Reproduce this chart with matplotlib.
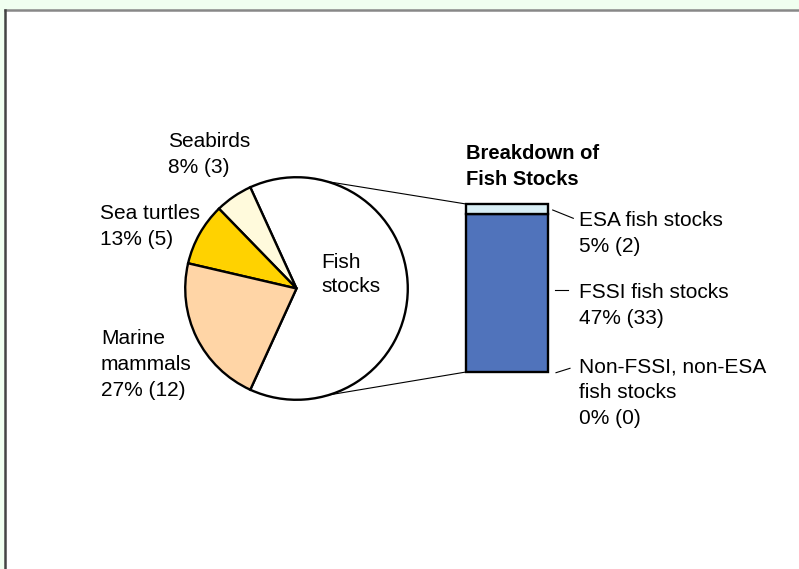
import numpy as np
import matplotlib.pyplot as plt
from matplotlib.patches import Rectangle, ConnectionPatch
from matplotlib.lines import Line2D

plt.rcParams['font.family'] = ['Liberation Sans', 'DejaVu Sans']

# pie data (counts), drawn counterclockwise starting with fish stocks
pie_names = ['Fish stocks', 'Seabirds', 'Sea turtles', 'Marine mammals']
pie_counts = [35, 3, 5, 12]
pie_colors = ['#ffffff', '#fffadc', '#ffd200', '#ffd5a6']
pie_labels = ['Seabirds\n8% (3)', 'Sea turtles\n13% (5)', 'Marine\nmammals\n27% (12)']

# breakdown bar, bottom to top
bar_names = ['Non-FSSI, non-ESA fish stocks', 'FSSI fish stocks', 'ESA fish stocks']
bar_counts = [0, 33, 2]
bar_colors = ['#ffffff', '#5073bb', '#d8eef5']
bar_labels = ['Non-FSSI, non-ESA\nfish stocks\n0% (0)', 'FSSI fish stocks\n47% (33)', 'ESA fish stocks\n5% (2)']

W, H = 799, 569
fig = plt.figure(figsize=(W / 100, H / 100), dpi=100)
fig.patch.set_facecolor('#f0fff0')

def px(x, y):
    return x / W, 1 - y / H

# white panel with grey top/left border
fig.patches.append(Rectangle(px(5, H), 1, (H - 10) / H, transform=fig.transFigure,
                             facecolor='white', edgecolor='none', zorder=-2))
fig.lines.append(Line2D([5 / W, 1], [1 - 10 / H] * 2, transform=fig.transFigure,
                        color='#888888', lw=1.8, zorder=-1))
fig.lines.append(Line2D([5 / W] * 2, [0, 1 - 10 / H], transform=fig.transFigure,
                        color='#444444', lw=1.8, zorder=-1))

# pie
cx, cy, r = 296.5, 288.5, 113.5
ax_pie = fig.add_axes([(cx - r) / W, (H - cy - r) / H, 2 * r / W, 2 * r / H])
total = sum(pie_counts)
ax_pie.pie(pie_counts, colors=pie_colors, startangle=-0.5 * pie_counts[0] / total * 360,
           counterclock=True, radius=1,
           wedgeprops=dict(edgecolor='black', linewidth=1.7))
ax_pie.set_xlim(-1.02, 1.02)
ax_pie.set_ylim(-1.02, 1.02)
ax_pie.set_aspect('equal')
ax_pie.axis('off')
for w in ax_pie.patches:
    w.set_clip_on(False)

# stacked bar
bx0, bx1, by0, by1 = 466, 548, 204, 372
ax_bar = fig.add_axes([bx0 / W, (H - by1) / H, (bx1 - bx0) / W, (by1 - by0) / H])
bottom = 0
for v, c in zip(bar_counts, bar_colors):
    if v > 0:
        ax_bar.bar(0, v, bottom=bottom, width=1, color=c, edgecolor='black',
                   linewidth=1.7, clip_on=False)
    bottom += v
ax_bar.set_xlim(-0.5, 0.5)
ax_bar.set_ylim(0, sum(bar_counts))
ax_bar.axis('off')

# connector lines pie -> bar
for ang, yb in [(74, sum(bar_counts)), (-73, 0)]:
    a = np.deg2rad(ang)
    con = ConnectionPatch(xyA=(np.cos(a), np.sin(a)), coordsA=ax_pie.transData,
                          xyB=(-0.5, yb), coordsB=ax_bar.transData,
                          color='black', lw=0.8)
    fig.add_artist(con)

# text overlay in pixel coords
ax_t = fig.add_axes([0, 0, 1, 1])
ax_t.set_xlim(0, W)
ax_t.set_ylim(H, 0)
ax_t.axis('off')
fs = 15
ls = 1.47
off = 1
pie_label_pos = [(168, 133), (100, 205), (101, 330)]
for (x, y), t in zip(pie_label_pos, pie_labels):
    ax_t.text(x, y - off, t, fontsize=fs, ha='left', va='top', linespacing=ls)
ax_t.text(321, 254 - off, 'Fish\nstocks', fontsize=fs, ha='left', va='top', linespacing=ls - 0.12)
ax_t.text(466, 145 - off, 'Breakdown of\nFish Stocks', fontsize=14.5, fontweight='bold',
          ha='left', va='top', linespacing=ls)

bar_label_pos = [(579, 358.3), (579, 284), (579, 211.7)]
leaders = [((556, 372.7), (570, 368.3)), ((555, 290), (568, 290)), ((552.7, 210), (573.3, 218.3))]
for (x, y), t, (p0, p1) in zip(bar_label_pos, bar_labels, leaders):
    ax_t.text(x, y - off, t, fontsize=fs, ha='left', va='top', linespacing=ls)
    ax_t.plot([p0[0], p1[0]], [p0[1], p1[1]], color='black', lw=0.8)

fig.savefig('out.png', dpi=100, facecolor=fig.get_facecolor())
